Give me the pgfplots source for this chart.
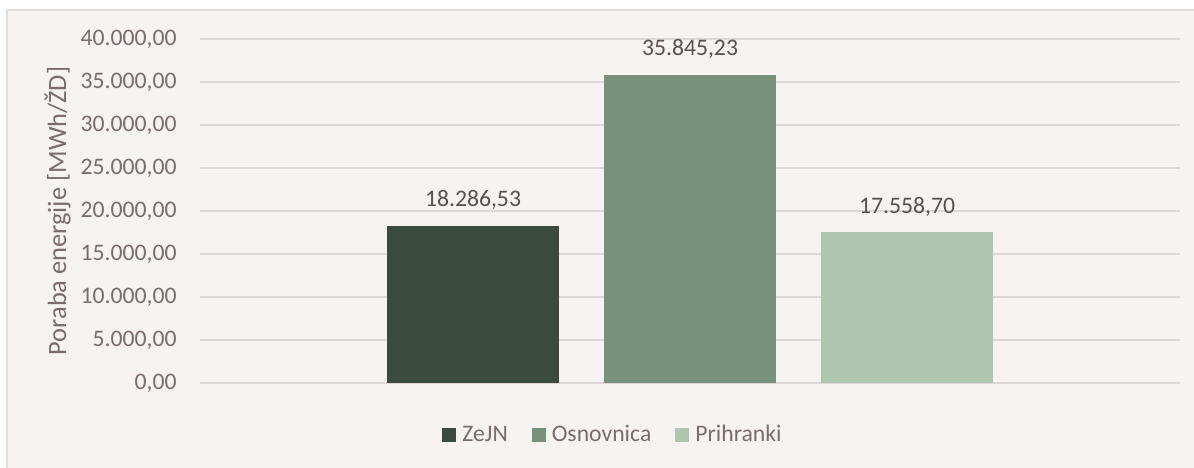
\documentclass[border=0pt]{standalone}
\usepackage{fontspec}
\setmainfont{Carlito}
\usepackage{pgfplots}
\pgfplotsset{compat=1.18}
\definecolor{bg}{HTML}{F7F3F0}
\definecolor{frame}{HTML}{E2DDDA}
\definecolor{gridc}{HTML}{DDD8D6}
\definecolor{tickc}{HTML}{7A6C6C}
\definecolor{lblc}{HTML}{595050}
\definecolor{cA}{HTML}{3A4A3F}
\definecolor{cB}{HTML}{78917C}
\definecolor{cC}{HTML}{ADC6AD}
\pgfplotsset{legendsq/.style={legend image code/.code={\fill[##1] (0pt,-3.5pt) rectangle (7pt,3.5pt);}}}
\begin{document}
\begin{tikzpicture}
\useasboundingbox (-100pt,-42pt) rectangle (497pt,191.5pt);
\fill[white] (-100pt,-42pt) rectangle (497pt,191.5pt);
\filldraw[fill=bg, draw=frame, line width=0.75pt] (-96.5pt,-60pt) rectangle (520pt,186.5pt);
\begin{axis}[
  scale only axis, width=490pt, height=172pt,
  xmin=-2.258, xmax=2.258, ymin=0, ymax=40000,
  ytick={0,5000,...,40000},
  xtick=\empty,
  axis line style={draw=none},
  major tick length=0pt,
  ymajorgrids, grid style={color=gridc, line width=0.75pt},
  scaled y ticks=false,
  /pgf/number format/use comma,
  /pgf/number format/fixed,
  /pgf/number format/fixed zerofill,
  /pgf/number format/precision=2,
  /pgf/number format/assume math mode=true,
  yticklabel style={font=\fontsize{11.85}{14}\selectfont, text=tickc, inner sep=0pt, anchor=east, xshift=-11.5pt},
  ylabel={Poraba energije [MWh/ŽD]},
  every axis y label/.style={at={(axis description cs:-0.1454,0.5)}, rotate=90, anchor=center, font=\fontsize{13.2}{15}\selectfont, text=tickc},
  nodes near coords,
  every node near coord/.append style={font=\fontsize{11.85}{14}\selectfont, text=lblc, anchor=south, inner sep=0pt, text depth=0pt, yshift=9.2pt},
  legend columns=3,
  legend style={at={(axis description cs:0.4204,-0.151)}, anchor=center, draw=none, fill=none, inner sep=0pt,
    font=\fontsize{11.85}{14}\selectfont, text=tickc, nodes={inner sep=0pt},
    /tikz/every odd column/.append style={column sep=3pt},
    /tikz/every even column/.append style={column sep=12pt}},
]
\addplot[ybar, bar width=86pt, bar shift=0pt, fill=cA, draw=none, legendsq] coordinates {(-1,18286.53)};
\addlegendentry{ZeJN}
\addplot[ybar, bar width=86pt, bar shift=0pt, fill=cB, draw=none, legendsq] coordinates {(0,35845.23)};
\addlegendentry{Osnovnica}
\addplot[ybar, bar width=86pt, bar shift=0pt, fill=cC, draw=none, legendsq] coordinates {(1,17558.70)};
\addlegendentry{Prihranki}
\end{axis}
\end{tikzpicture}
\end{document}
